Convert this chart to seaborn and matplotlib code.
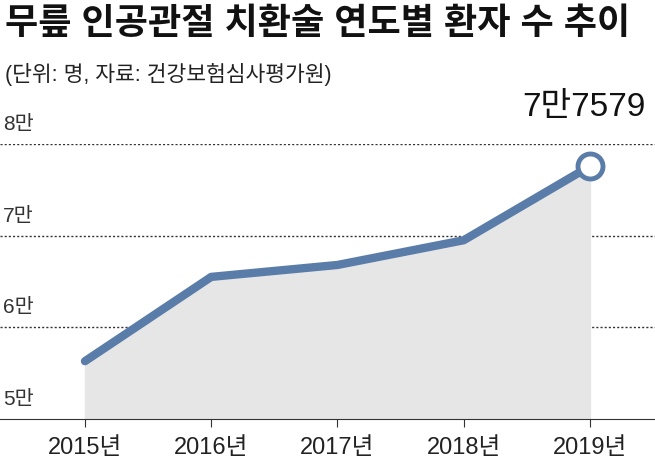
import matplotlib
matplotlib.use("Agg")
import matplotlib.pyplot as plt
import seaborn as sns
import pandas as pd

years = [2015, 2016, 2017, 2018, 2019]
year_labels = ["2015년", "2016년", "2017년", "2018년", "2019년"]
patients = [56300, 65500, 66800, 69500, 77579]
y_ticks = [50000, 60000, 70000, 80000]
y_labels = ["5만", "6만", "7만", "8만"]

sns.set_style("white")
plt.rcParams['font.family'] = ['Liberation Sans', 'Noto Sans CJK KR', 'DejaVu Sans']

df = pd.DataFrame({"year": years, "patients": patients})
line_color = "#5a7ca8"

fig = plt.figure(figsize=(6.55, 4.64), dpi=100)
ax = fig.add_axes([0, 0.095, 1, 0.5925])

ax.fill_between(df["year"], df["patients"], 50000, color="#e6e6e6", zorder=1)
sns.lineplot(data=df, x="year", y="patients", ax=ax, color=line_color,
             linewidth=6, zorder=3)
ax.plot(years[-1], patients[-1], "o", ms=18, mfc="white", mec=line_color,
        mew=3.5, zorder=4, clip_on=False)

ax.set_xlim(2014.327, 2019.515)
ax.set_ylim(50000, 80000)
for t, lab in zip(y_ticks, y_labels):
    if t > 50000:
        ax.axhline(t, color="#333333", lw=1, ls=(0, (1.5, 1.5)), zorder=0)
    ax.text(2014.35, t + 1200, lab, fontsize=15, color="#333333", va="bottom")
for s in ["top", "right", "left"]:
    ax.spines[s].set_visible(False)
ax.spines["bottom"].set_color("#333333")
ax.set_yticks([])
ax.set_xticks(years)
ax.set_xticklabels(year_labels, fontsize=17, color="#222222")
ax.tick_params(axis="x", length=6, color="#333333", direction="out", pad=6, bottom=True)
ax.set_xlabel("")
ax.set_ylabel("")

ax.text(2018.95, 82400, "7만7579", fontsize=24, ha="center", va="bottom",
        color="#111111")

fig.text(0.008, 0.985, "무릎 인공관절 치환술 연도별 환자 수 추이", fontsize=26,
         fontweight="bold", va="top", color="#111111")
fig.text(0.008, 0.865, "(단위: 명, 자료: 건강보험심사평가원)", fontsize=15.5,
         va="top", color="#222222")

fig.savefig("out.png", dpi=100)
